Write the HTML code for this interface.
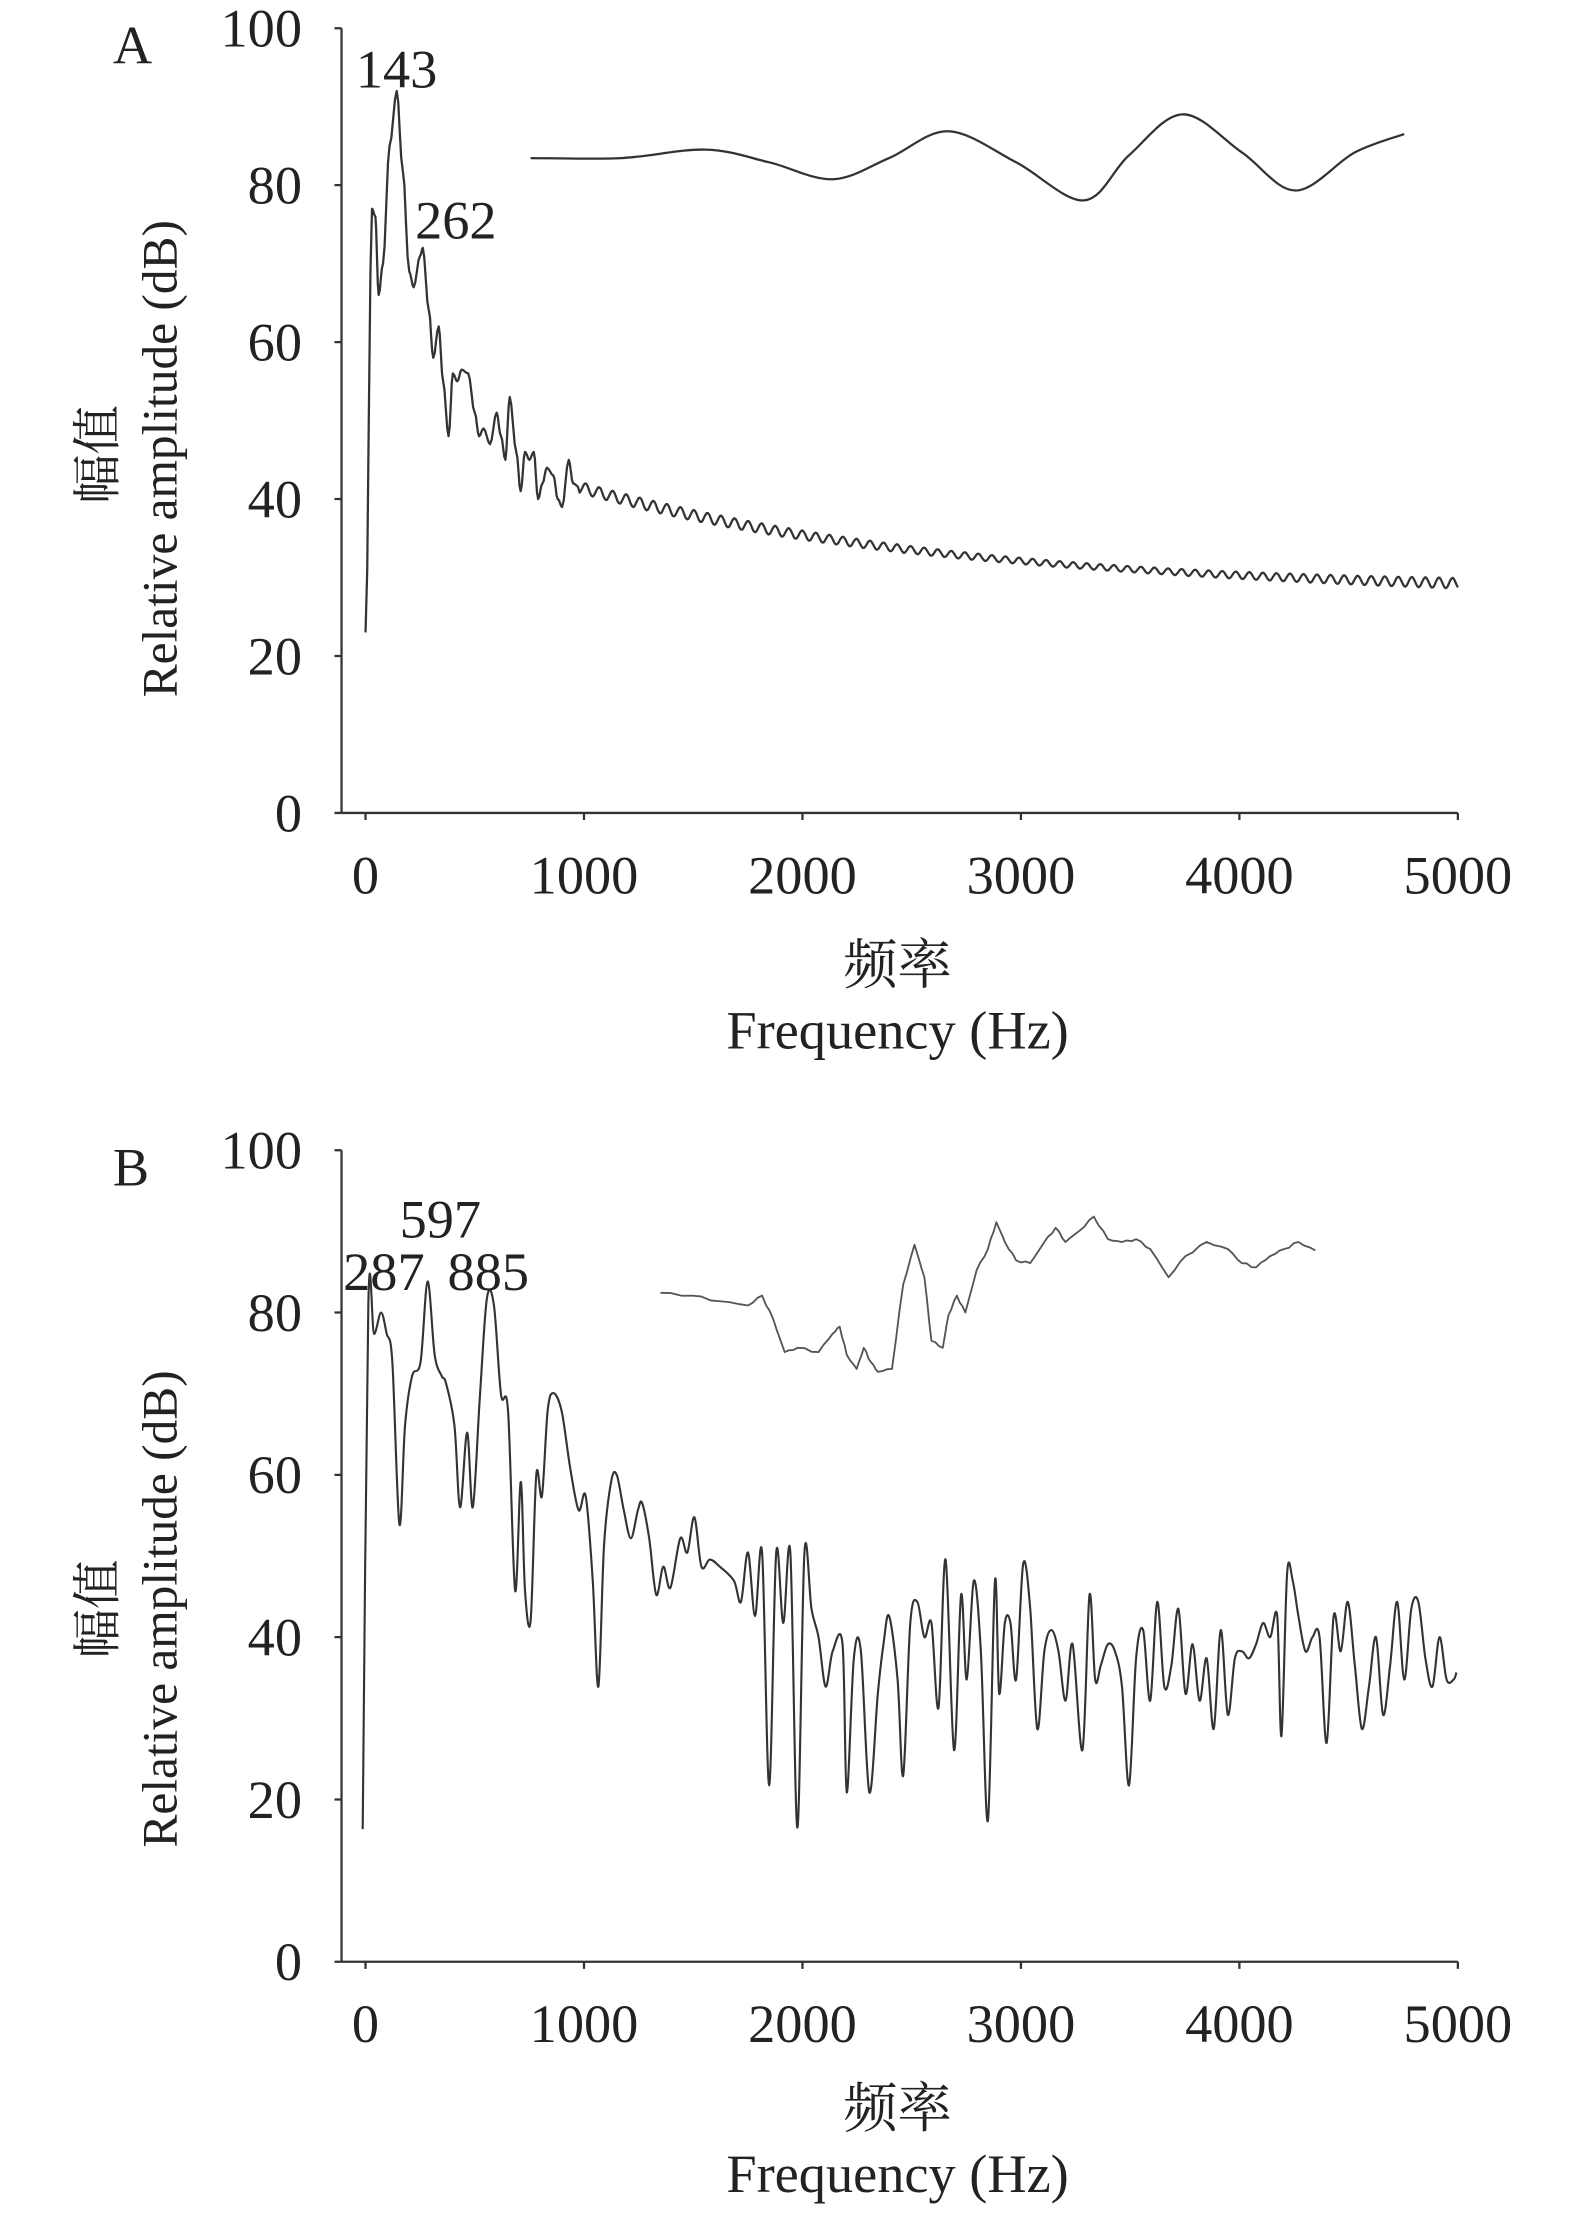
<!DOCTYPE html>
<html><head><meta charset="utf-8"><style>
html,body{margin:0;padding:0;background:#fff;}
svg{display:block;}
text{font-family:"Liberation Serif","Noto Serif CJK SC","Noto Sans CJK SC",serif;fill:#222;font-size:38.5px;}
text.yl{font-size:35px;}
</style></head><body>
<svg id="s" width="1575" height="2213" viewBox="0 0 1116 1568" preserveAspectRatio="none" xmlns="http://www.w3.org/2000/svg">
<g stroke="#333" stroke-width="1.6" fill="none" id="axes"></g>
<g id="txt"></g>
<path id="a1" fill="none" stroke="#333" stroke-width="1.6" stroke-linejoin="round"/>
<path id="a2" fill="none" stroke="#333" stroke-width="1.6"/>
<path id="b1" fill="none" stroke="#333" stroke-width="1.5" stroke-linejoin="round"/>
<path id="b2" fill="none" stroke="#555" stroke-width="1.3" stroke-linejoin="round"/>
<text x="80" y="45">A</text>
<text x="281" y="62" text-anchor="middle">143</text>
<text x="323" y="169" text-anchor="middle">262</text>
<text x="80" y="840">B</text>
<text x="312" y="877" text-anchor="middle">597</text>
<text x="272" y="914" text-anchor="middle">287</text>
<text x="346" y="914" text-anchor="middle">885</text>
<text x="636" y="697" text-anchor="middle">频率</text>
<text x="636" y="743" text-anchor="middle">Frequency (Hz)</text>
<text x="636" y="1507" text-anchor="middle">频率</text>
<text x="636" y="1553" text-anchor="middle">Frequency (Hz)</text>
<text class="yl" transform="translate(81,322) rotate(-90)" text-anchor="middle">幅值</text>
<text class="yl" transform="translate(125,325) rotate(-90)" text-anchor="middle">Relative amplitude (dB)</text>
<text class="yl" transform="translate(81,1140) rotate(-90)" text-anchor="middle">幅值</text>
<text class="yl" transform="translate(125,1140) rotate(-90)" text-anchor="middle">Relative amplitude (dB)</text>
</svg>
<script>
var NS="http://www.w3.org/2000/svg";
function el(p,t,a,txt){var e=document.createElementNS(NS,t);for(var k in a)e.setAttribute(k,a[k]);if(txt!==undefined)e.textContent=txt;p.appendChild(e);return e;}
var ax=document.getElementById('axes'),tx=document.getElementById('txt');
function panel(top,zero){
  var d="M242,"+top+" L242,"+zero+" L1033,"+zero;
  var s=(zero-top)/100;
  for(var v=0;v<=100;v+=20){var y=zero-v*s;d+=" M237,"+y+" L242,"+y;
    el(tx,'text',{x:214,y:y+13,'text-anchor':'end'},String(v));}
  for(var f=0;f<=5000;f+=1000){var x=259+f*0.1548;d+=" M"+x+","+zero+" L"+x+","+(zero+5);
    el(tx,'text',{x:x,y:zero+57,'text-anchor':'middle'},String(f));}
  el(ax,'path',{d:d});
}
panel(20,576);panel(815,1390);
var kp=[[0,23],[30,77],[45,76],[60,66],[80,70],[110,85],[143,92],[170,82],[200,69],[220,67],[250,71],[262,72],[290,64],[310,58],[335,62],[355,55],[380,48],[400,56],[420,55],[440,56.5],[470,56],[500,51],[520,48],[540,49],[570,47],[600,51],[620,48],[640,45],[660,53],[690,46],[710,41],[730,46],[750,45],[770,46],[790,40],[810,42],[830,44],[860,43],[880,40],[900,39],[930,45],[950,42],[980,41.5]];
function X(f){return 259+f*0.1548;}
function YA(v){return 576-v*5.56;}
var pts=[];
for(var i=0;i<kp.length-1;i++){var a=kp[i],b=kp[i+1];for(var t=0;t<1;t+=0.25){var u=(1-Math.cos(Math.PI*t))/2;pts.push([X(a[0]+(b[0]-a[0])*t),YA(a[1]+(b[1]-a[1])*u)]);}}
for(var f=980;f<=5000;f+=6){var base=28+13.5*Math.exp(-(f-980)/1700);var r=Math.sin(f/62*2*Math.PI)*0.55*(1+0.3*Math.sin(f/700));pts.push([X(f),YA(base+r)]);}
document.getElementById('a1').setAttribute('d',"M"+pts.map(function(p){return p[0].toFixed(1)+","+p[1].toFixed(1)}).join(" L"));
var ins=[[376,112],[440,112],[500,106],[545,115],[590,127],[630,112],[672,93],[720,115],[768,142],[800,110],[838,81],[880,108],[918,135],[960,108],[995,95]];
function cr(P){var d="M"+P[0][0]+","+P[0][1];for(var i=0;i<P.length-1;i++){var p0=P[i-1]||P[i],p1=P[i],p2=P[i+1],p3=P[i+2]||p2;
d+=" C"+(p1[0]+(p2[0]-p0[0])/6)+","+(p1[1]+(p2[1]-p0[1])/6)+" "+(p2[0]-(p3[0]-p1[0])/6)+","+(p2[1]-(p3[1]-p1[1])/6)+" "+p2[0]+","+p2[1];}return d;}
document.getElementById('a2').setAttribute('d',cr(ins));
var B=[[257,1296],[261,924],[265,945],[270,930],[274,945],[278,965],[283,1080],[287,1010],[292,975],[298,965],[303,908],[308,960],[313,975],[316,980],[322,1010],[326,1068],[331,1015],[335,1068],[340,990],[345,920],[350,925],[355,988],[360,1000],[365,1127],[369,1050],[372,1127],[376,1148],[380,1045],[384,1060],[388,1000],[392,987],[398,1000],[404,1040],[410,1070],[415,1060],[420,1120],[424,1195],[428,1095],[433,1050],[437,1045],[442,1070],[447,1090],[452,1070],[455,1065],[460,1090],[465,1130],[470,1110],[475,1125],[482,1090],[487,1100],[492,1075],[497,1110],[503,1105],[510,1110],[520,1120],[525,1135],[530,1100],[535,1145],[540,1100],[545,1265],[550,1100],[555,1150],[560,1100],[565,1295],[570,1100],[575,1140],[580,1160],[585,1195],[590,1170],[597,1165],[600,1270],[605,1175],[610,1170],[616,1270],[622,1200],[626,1165],[630,1145],[636,1190],[640,1258],[645,1150],[650,1135],[655,1160],[660,1150],[665,1210],[670,1105],[676,1240],[681,1130],[685,1190],[690,1120],[695,1170],[700,1290],[705,1120],[708,1200],[712,1150],[716,1150],[720,1190],[725,1108],[730,1140],[735,1225],[740,1170],[745,1155],[750,1170],[755,1205],[760,1165],[767,1240],[772,1130],[776,1190],[780,1180],[785,1165],[790,1170],[795,1195],[800,1265],[805,1175],[810,1155],[815,1205],[820,1135],[825,1195],[830,1180],[835,1140],[840,1200],[845,1165],[850,1205],[855,1175],[860,1225],[865,1155],[870,1215],[875,1175],[880,1170],[885,1175],[890,1165],[895,1150],[900,1160],[905,1145],[908,1230],[912,1115],[916,1120],[920,1145],[925,1170],[930,1160],[935,1160],[940,1235],[945,1145],[950,1170],[955,1135],[960,1180],[965,1225],[970,1195],[975,1160],[980,1215],[985,1180],[990,1135],[995,1190],[1000,1140],[1005,1135],[1010,1175],[1015,1195],[1020,1160],[1025,1190],[1030,1190],[1032,1185]];
document.getElementById('b1').setAttribute('d',cr(B));
var BI=[[468,916],[490,918],[510,922],[530,925],[540,918],[548,935],[556,958],[565,955],[580,958],[590,945],[595,940],[600,960],[607,970],[612,955],[617,965],[622,972],[632,970],[640,910],[648,882],[655,905],[660,950],[668,955],[672,932],[678,918],[684,930],[692,900],[700,885],[706,866],[712,880],[720,893],[730,895],[740,880],[748,870],[755,880],[765,872],[775,862],[785,878],[795,880],[805,878],[815,885],[828,905],[840,890],[855,880],[870,885],[880,895],[890,898],[900,890],[910,885],[920,880],[932,886]];
var bi=[];for(var i=0;i<BI.length-1;i++){var a=BI[i],b=BI[i+1];for(var t=0;t<1;t+=0.34){bi.push([a[0]+(b[0]-a[0])*t,a[1]+(b[1]-a[1])*t+(t>0?(Math.sin(i*7.3+t*11)*0.8):0)]);}}
bi.push(BI[BI.length-1]);
document.getElementById('b2').setAttribute('d',"M"+bi.map(function(p){return p[0].toFixed(1)+","+p[1].toFixed(1)}).join(" L"));
</script>
</body></html>
